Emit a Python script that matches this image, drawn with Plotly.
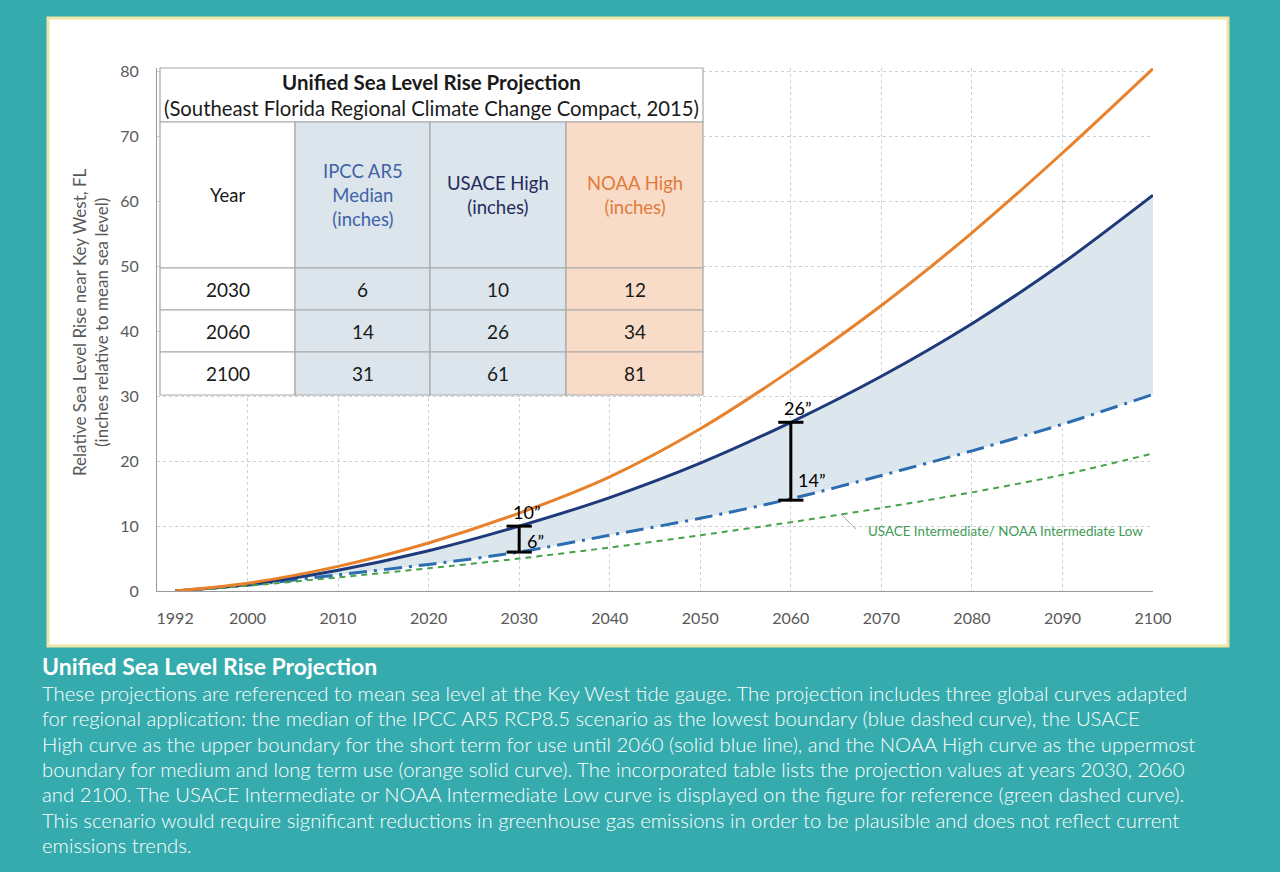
import plotly.graph_objects as go

# ---------------- data ----------------
years = [1992, 2000, 2010, 2020, 2030, 2040, 2050, 2060, 2070, 2080, 2090, 2100]
noaa_high = [0, 1.2, 3.8, 7.4, 12.0, 17.6, 25.0, 34.0, 44.0, 55.2, 67.5, 80.5]
usace_high = [0, 1.0, 3.2, 6.2, 10.0, 14.4, 19.7, 26.0, 33.1, 41.2, 50.5, 61.0]
ipcc_median = [0, 0.9, 2.5, 4.1, 6.0, 8.6, 11.2, 14.2, 17.8, 21.6, 25.7, 30.3]
usace_int = [0, 0.8, 2.1, 3.5, 5.0, 6.7, 8.6, 10.6, 12.8, 15.2, 17.9, 21.2]

x_tick_labels = [1992, 2000, 2010, 2020, 2030, 2040, 2050, 2060, 2070, 2080, 2090, 2100]
x_grid_years = [1990, 2000, 2010, 2020, 2030, 2040, 2050, 2060, 2070, 2080, 2090, 2100]
y_ticks = [0, 10, 20, 30, 40, 50, 60, 70, 80]

# table
table_title = "Unified Sea Level Rise Projection"
table_subtitle = "(Southeast Florida Regional Climate Change Compact, 2015)"
table_headers = ["Year", "IPCC AR5<br>Median<br>(inches)", "USACE High<br>(inches)", "NOAA High<br>(inches)"]
table_years = [2030, 2060, 2100]
table_ipcc = [6, 14, 31]
table_usace = [10, 26, 61]
table_noaa = [12, 34, 81]

# range bars (year, low, high)
bar_years = [2030, 2060]
bar_low = [6, 14]
bar_high = [10, 26]

caption_title = "Unified Sea Level Rise Projection"
caption_lines = [
    "These projections are referenced to mean sea level at the Key West tide gauge. The projection includes three global curves adapted",
    "for regional application: the median of the IPCC AR5 RCP8.5 scenario as the lowest boundary (blue dashed curve), the USACE",
    "High curve as the upper boundary for the short term for use until 2060 (solid blue line), and the NOAA High curve as the uppermost",
    "boundary for medium and long term use (orange solid curve). The incorporated table lists the projection values at years 2030, 2060",
    "and 2100. The USACE Intermediate or NOAA Intermediate Low curve is displayed on the figure for reference (green dashed curve).",
    "This scenario would require significant reductions in greenhouse gas emissions in order to be plausible and does not reflect current",
    "emissions trends.",
]

# ---------------- layout geometry (pixels) ----------------
W_FIG, H_FIG = 1280, 872
L, R = 157, 1153
T, B = 68, 591
YMAX = 80.6

def px2x(px):
    return (px - L) / (R - L)

def py2y(py):
    return (B - py) / (B - T)

TEAL = "#36abad"
ORANGE = "#e8812b"
NAVY = "#1f3a7a"
BLUE = "#2c6db2"
GREEN = "#46a24a"
FILL = "#dce6ed"
GRAY_TXT = "#595959"
FONT = "Lato"

fig = go.Figure()

fig.add_trace(go.Scatter(x=years, y=ipcc_median, mode="lines", name="IPCC AR5 Median",
                         line=dict(color=BLUE, width=3, dash="18px,7px,3px,7px", shape="spline", smoothing=0.8)))
fig.add_trace(go.Scatter(x=years, y=usace_high, mode="lines", name="USACE High",
                         line=dict(color=NAVY, width=3, shape="spline", smoothing=0.8),
                         fill="tonexty", fillcolor=FILL))
fig.add_trace(go.Scatter(x=years, y=usace_int, mode="lines", name="USACE Intermediate",
                         line=dict(color=GREEN, width=2, dash="6px,5px", shape="spline", smoothing=0.8)))
fig.add_trace(go.Scatter(x=years, y=noaa_high, mode="lines", name="NOAA High",
                         line=dict(color=ORANGE, width=3, shape="spline", smoothing=0.8)))

for yr, lo, hi in zip(bar_years, bar_low, bar_high):
    fig.add_trace(go.Scatter(x=[yr, yr], y=[lo, hi], mode="lines+markers", xaxis="x2",
                             line=dict(color="black", width=3),
                             marker=dict(symbol="line-ew", size=18, color="black",
                                         line=dict(color="black", width=3)),
                             hoverinfo="skip"))

shapes = []
annotations = []

# white panel
shapes.append(dict(type="rect", xref="paper", yref="paper",
                   x0=px2x(48), x1=px2x(1228), y0=py2y(646), y1=py2y(18),
                   fillcolor="white", line=dict(color="#ece6a6", width=3), layer="below"))

# table
col_edges = [160, 295, 430, 566, 703]
row_edges = [68, 122, 268, 310, 352, 395]
col_fill = ["white", "#dbe5eb", "#dbe5eb", "#f8dcc8"]
head_color = ["#1a1a1a", "#3f63a8", "#1f2b5e", "#e27b3a"]
tbl_line = dict(color="#a8a8a8", width=1.2)

shapes.append(dict(type="rect", xref="paper", yref="paper",
                   x0=px2x(col_edges[0]), x1=px2x(col_edges[-1]),
                   y0=py2y(row_edges[1]), y1=py2y(row_edges[0]),
                   fillcolor="white", line=tbl_line, layer="above"))
for ci in range(4):
    for ri in range(1, 5):
        shapes.append(dict(type="rect", xref="paper", yref="paper",
                           x0=px2x(col_edges[ci]), x1=px2x(col_edges[ci + 1]),
                           y0=py2y(row_edges[ri + 1]), y1=py2y(row_edges[ri]),
                           fillcolor=col_fill[ci], line=tbl_line, layer="above"))

cx = [(col_edges[i] + col_edges[i + 1]) / 2 for i in range(4)]
tcx = px2x((col_edges[0] + col_edges[-1]) / 2)
annotations.append(dict(xref="paper", yref="paper", x=tcx, y=py2y(82), text="<b>" + table_title + "</b>",
                        showarrow=False, xanchor="center", yanchor="middle",
                        font=dict(family=FONT, size=20.5, color="#1a1a1a")))
annotations.append(dict(xref="paper", yref="paper", x=tcx, y=py2y(108), text=table_subtitle,
                        showarrow=False, xanchor="center", yanchor="middle",
                        font=dict(family=FONT, size=20.3, color="#1a1a1a")))
head_cy = (row_edges[1] + row_edges[2]) / 2
for ci in range(4):
    annotations.append(dict(xref="paper", yref="paper", x=px2x(cx[ci]), y=py2y(head_cy),
                            text=table_headers[ci], showarrow=False, xanchor="center", yanchor="middle",
                            font=dict(family=FONT, size=18.5, color=head_color[ci])))
cols = [table_years, table_ipcc, table_usace, table_noaa]
for ri in range(3):
    cy = (row_edges[ri + 2] + row_edges[ri + 3]) / 2
    for ci in range(4):
        annotations.append(dict(xref="paper", yref="paper", x=px2x(cx[ci]), y=py2y(cy),
                                text=str(cols[ci][ri]), showarrow=False, xanchor="center", yanchor="middle",
                                font=dict(family=FONT, size=19, color="#1a1a1a")))

# range bar labels
lbl_font = dict(family=FONT, size=18, color="black")
for yr, lo, hi in zip(bar_years, bar_low, bar_high):
    annotations.append(dict(x=yr, y=hi, xref="x2", yref="y", text=f"{hi}\u201d", showarrow=False,
                            xanchor="center", yanchor="bottom", xshift=7, yshift=1, font=lbl_font))
annotations.append(dict(x=bar_years[0], y=bar_low[0], xref="x2", yref="y", text=f"{bar_low[0]}\u201d",
                        showarrow=False, xanchor="left", yanchor="bottom", xshift=6, yshift=-2,
                        font=lbl_font))
annotations.append(dict(x=bar_years[1], y=bar_low[1], xref="x2", yref="y", text=f"{bar_low[1]}\u201d",
                        showarrow=False, xanchor="left", yanchor="bottom", xshift=5, yshift=7,
                        font=lbl_font))

# green curve label with leader line
annotations.append(dict(x=2068.3, y=usace_int[8] - 3.6, xref="x", yref="y",
                        text="USACE Intermediate/ NOAA Intermediate Low", showarrow=False,
                        xanchor="left", yanchor="middle",
                        font=dict(family=FONT, size=13.4, color="#3f9a55")))
annotations.append(dict(x=2065.5, y=11.9, xref="x", yref="y", text="", showarrow=True,
                        arrowhead=0, arrowwidth=1, arrowcolor="#a0a0a0", ax=17, ay=17,
                        standoff=0, startstandoff=0))

# y axis title
annotations.append(dict(xref="paper", yref="paper", x=px2x(90), y=py2y(322),
                        text="Relative Sea Level Rise near Key West, FL<br>(inches relative to mean sea level)",
                        textangle=-90, showarrow=False, xanchor="center", yanchor="middle",
                        font=dict(family=FONT, size=17, color=GRAY_TXT)))

# caption
annotations.append(dict(xref="paper", yref="paper", x=px2x(40), y=py2y(666), text="<b>" + caption_title + "</b>",
                        showarrow=False, xanchor="left", yanchor="middle",
                        font=dict(family=FONT, size=23, color="white")))
for i, line in enumerate(caption_lines):
    annotations.append(dict(xref="paper", yref="paper", x=px2x(40), y=py2y(693 + 25.3 * i), text=line,
                            showarrow=False, xanchor="left", yanchor="middle",
                            font=dict(family=FONT, size=20.3, color="white", weight=300)))

fig.update_layout(
    width=W_FIG, height=H_FIG,
    margin=dict(l=L, r=W_FIG - R, t=T, b=H_FIG - B, pad=0),
    paper_bgcolor=TEAL, plot_bgcolor="white",
    showlegend=False,
    font=dict(family=FONT, color=GRAY_TXT),
    xaxis=dict(range=[1990, 2100], tickmode="array", tickvals=x_grid_years, showticklabels=False,
               showgrid=True, gridcolor="#cfcfcf", griddash="dot", gridwidth=1,
               showline=True, linecolor="#9a9a9a", linewidth=1, zeroline=False, ticks=""),
    xaxis2=dict(overlaying="x", matches="x", side="bottom", tickmode="array",
                tickvals=x_tick_labels, ticktext=[str(v) for v in x_tick_labels],
                showgrid=False, showline=False, zeroline=False, ticks="",
                tickfont=dict(family=FONT, size=16, color=GRAY_TXT), ticklabelstandoff=16),
    yaxis=dict(range=[0, YMAX], tickmode="array", tickvals=y_ticks,
               showgrid=True, gridcolor="#cfcfcf", griddash="dot", gridwidth=1,
               showline=True, linecolor="#9a9a9a", linewidth=1, zeroline=False, ticks="",
               tickfont=dict(family=FONT, size=16, color=GRAY_TXT), ticklabelstandoff=14),
    shapes=shapes,
    annotations=annotations,
)

fig.write_html("out.html")
